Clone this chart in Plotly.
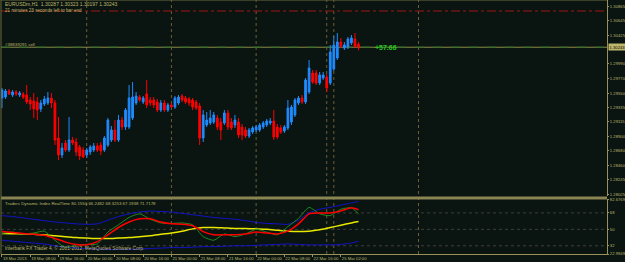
import plotly.graph_objects as go

# ---------------- data ----------------
bar_index = list(range(102))
open_ = [1.29476,1.29491,1.29582,1.29522,1.29567,1.29522,1.29537,1.29522,1.29446,1.29431,
         1.29416,1.29310,1.29386,1.29401,1.29476,1.29401,1.28872,1.28616,1.28797,1.28691,
         1.28842,1.28812,1.28736,1.28691,1.28616,1.28661,1.28691,1.28751,1.28766,1.28691,
         1.28766,1.28842,1.28993,1.28842,1.29144,1.29039,1.29039,1.29174,1.29401,1.29491,
         1.29416,1.29537,1.29446,1.29446,1.29416,1.29295,1.29401,1.29295,1.29371,1.29340,
         1.29401,1.29506,1.29476,1.29461,1.29446,1.29416,1.29355,1.28872,1.29069,1.29099,
         1.29114,1.29174,1.29114,1.29099,1.29250,1.29114,1.29069,1.29114,1.29039,1.28993,
         1.28902,1.28963,1.28993,1.28993,1.29039,1.29069,1.29099,1.29129,1.29039,1.29024,
         1.28978,1.29024,1.29114,1.29220,1.29401,1.29476,1.29416,1.29567,1.29854,1.29854,
         1.29703,1.29778,1.29793,1.29703,1.29914,1.30080,1.30322,1.30231,1.30246,1.30307,
         1.30367,1.30287]
high = [1.29627,1.29612,1.29612,1.29597,1.29597,1.29582,1.29567,1.29672,1.29491,1.29552,
        1.29491,1.29446,1.29506,1.29567,1.29552,1.29446,1.29189,1.28797,1.28842,1.29189,
        1.28887,1.28872,1.28766,1.28736,1.28721,1.28766,1.28797,1.28797,1.28812,1.28902,
        1.29174,1.29053,1.29144,1.29220,1.29189,1.29325,1.29672,1.29718,1.29567,1.29522,
        1.29506,1.29748,1.29491,1.29491,1.29461,1.29446,1.29446,1.29401,1.29401,1.29506,
        1.29522,1.29537,1.29506,1.29491,1.29476,1.29446,1.29401,1.29295,1.29265,1.29295,
        1.29265,1.29220,1.29174,1.29295,1.29295,1.29174,1.29220,1.29174,1.29084,1.29039,
        1.29024,1.29053,1.29069,1.29099,1.29129,1.29159,1.29174,1.29295,1.29084,1.29069,
        1.29069,1.29446,1.29371,1.29476,1.29506,1.29522,1.29778,1.30050,1.29899,1.29899,
        1.29869,1.29869,1.29839,1.30277,1.30412,1.30458,1.30382,1.30322,1.30397,1.30427,
        1.30458,1.30323]
low = [1.29325,1.29461,1.29522,1.29491,1.29506,1.29491,1.29461,1.29386,1.29295,1.29174,
       1.29144,1.29265,1.29355,1.29371,1.29325,1.28766,1.28540,1.28570,1.28661,1.28661,
       1.28766,1.28600,1.28540,1.28570,1.28570,1.28616,1.28661,1.28661,1.28616,1.28661,
       1.28736,1.28812,1.28812,1.28812,1.28993,1.28993,1.29008,1.29144,1.29371,1.29416,
       1.29386,1.29325,1.29355,1.29325,1.29265,1.29265,1.29265,1.29265,1.29325,1.29310,
       1.29371,1.29416,1.29386,1.29355,1.29295,1.29295,1.28766,1.28812,1.29039,1.29069,
       1.29084,1.28993,1.28842,1.29069,1.28993,1.28993,1.29024,1.28872,1.28842,1.28872,
       1.28872,1.28933,1.28963,1.28963,1.29008,1.29039,1.29069,1.28842,1.28857,1.28933,
       1.28948,1.28993,1.29069,1.29189,1.29371,1.29386,1.29386,1.29537,1.29688,1.29672,
       1.29672,1.29748,1.29567,1.29672,1.29884,1.30050,1.30231,1.30201,1.30216,1.30277,
       1.30231,1.30197]
close = [1.29597,1.29582,1.29537,1.29567,1.29537,1.29552,1.29491,1.29416,1.29386,1.29310,
         1.29295,1.29401,1.29461,1.29476,1.29401,1.28842,1.28616,1.28721,1.28691,1.28842,
         1.28797,1.28661,1.28600,1.28585,1.28691,1.28736,1.28751,1.28691,1.28676,1.28872,
         1.29144,1.28993,1.28842,1.29144,1.29039,1.29295,1.29476,1.29491,1.29506,1.29446,
         1.29476,1.29371,1.29401,1.29371,1.29295,1.29401,1.29295,1.29371,1.29340,1.29476,
         1.29491,1.29446,1.29416,1.29401,1.29340,1.29325,1.28872,1.29220,1.29144,1.29174,
         1.29220,1.29039,1.28993,1.29250,1.29039,1.29024,1.29144,1.28918,1.28918,1.28902,
         1.28993,1.29024,1.29039,1.29069,1.29099,1.29129,1.29129,1.28887,1.28887,1.28963,
         1.29039,1.29325,1.29340,1.29446,1.29476,1.29416,1.29748,1.29929,1.29718,1.29703,
         1.29824,1.29824,1.29627,1.30171,1.30277,1.30322,1.30261,1.30277,1.30367,1.30382,
         1.30261,1.30243]

time_tick_index = [0, 8, 16, 24, 32, 40, 48, 56, 64, 72, 80, 88, 96]
time_tick_labels = ["19 Mar 2013", "19 Mar 08:00", "19 Mar 16:00", "20 Mar 00:00",
                    "20 Mar 08:00", "20 Mar 16:00", "21 Mar 00:00", "21 Mar 08:00",
                    "21 Mar 16:00", "22 Mar 00:00", "22 Mar 08:00", "22 Mar 16:00",
                    "25 Mar 02:00"]

price_ticks = [1.30865, 1.30645, 1.30425, 1.29990, 1.29770, 1.29550, 1.29335,
               1.29115, 1.28900, 1.28680, 1.28460, 1.28245, 1.28025]
price_tick_labels = ["1.30865", "1.30645", "1.30425", "1.29990", "1.29770", "1.29550",
                     "1.29335", "1.29115", "1.28900", "1.28680", "1.28460", "1.28245",
                     "1.28025"]

tdi_index = [0, 3, 6, 9, 12, 15, 18, 21, 24, 27, 30, 33, 36, 39, 42, 45, 48, 51, 54,
             57, 60, 63, 66, 69, 72, 75, 78, 81, 84, 87, 90, 93, 96, 99, 101]
tdi_upper = [65, 64, 62.5, 61, 59.5, 58, 57, 56, 55.5, 56, 60, 64, 67, 69, 70, 69.5, 69,
             67.5, 66, 64.5, 63, 62, 61, 59.5, 57.5, 56.5, 56, 55.5, 60, 68, 72, 74,
             76.5, 79, 80.5]
tdi_lower = [38, 37, 36, 35, 34, 32, 30.5, 29.5, 29, 28.5, 28, 28, 28, 28.5, 29, 29.5,
             30, 30, 30.5, 31, 31, 31.5, 32, 32, 32.5, 33, 33.5, 34, 33.5, 33, 33, 33,
             33.5, 35, 37]
tdi_middle = [45.5, 45.2, 45, 44.5, 44, 43, 42, 41, 40.5, 40, 40, 40.5, 41, 42, 43, 44.5,
              46, 48, 50.5, 52, 52, 51.5, 51, 51, 50.5, 50, 49, 48, 47.5, 48, 49.5, 52,
              54.5, 57, 58.5]
tdi_rsi = [45.5, 47, 45, 46, 48, 38, 30, 33, 33.5, 34, 47, 55, 63, 67, 61, 57, 56.5, 57,
           55, 42, 38, 45, 42, 45, 50, 47, 44, 53, 62, 74, 67, 65, 72, 73.5, 67]
tdi_signal = [47.5, 46.5, 45.5, 44.5, 43.5, 40, 36, 33.5, 33, 36.5, 44, 52, 58, 61.5,
              61.5, 58, 56, 55.7, 54, 47.5, 44, 44, 44, 45, 47, 46, 45, 48, 56, 67, 68,
              68, 70, 73.5, 71.5]
tdi_levels = [68, 50, 32]
tdi_ticks = [82.6769, 68, 50, 32, 22.9949]
tdi_tick_labels = ["82.6769", "68", "50", "32", "22.9949"]

separator_index = [24, 48, 72, 92, 94, 118]
current_price = 1.30243
order_price = 1.30243
stop_price = 1.30790
order_label = "#38839291 sell"
profit_label = "+57.66"

header1 = "EURUSDm,H1  1.30287 1.30323 1.30197 1.30243"
header2 = "21 minutes 23 seconds left to bar end"
tdi_title = "Traders Dynamic Index RealTime 80.1550 66.2482 68.3253 67.1938 71.7178"
footer = "Interbank FX Trader 4, \u00a9 2001-2012, MetaQuotes Software Corp."

# ---------------- style ----------------
BG = "#0a1411"
TAN = "#bdb76b"
AXIS = "#9a9258"
BLUE = "#1e8cff"
RED = "#ff0000"
FONT = "Liberation Sans, Arial, sans-serif"
TICK_FONT = "Liberation Sans Narrow, Liberation Sans, Arial, sans-serif"

fig = go.Figure()
fig.add_trace(go.Candlestick(
    x=bar_index, open=open_, high=high, low=low, close=close,
    increasing=dict(line=dict(color=BLUE, width=1), fillcolor=BLUE),
    decreasing=dict(line=dict(color=RED, width=1), fillcolor=RED),
    whiskerwidth=0, xaxis="x", yaxis="y", showlegend=False, hoverinfo="skip"))

for vals, col, w in [(tdi_upper, "#1414c8", 1), (tdi_lower, "#1414c8", 1),
                     (tdi_middle, "#e8e800", 1.5), (tdi_rsi, "#1f8a1f", 1),
                     (tdi_signal, "#ff0000", 1.5)]:
    fig.add_trace(go.Scatter(x=tdi_index, y=vals, mode="lines", xaxis="x", yaxis="y2",
                             line=dict(color=col, width=w, shape="spline", smoothing=0.6),
                             showlegend=False, hoverinfo="skip"))

shapes = []
for s in separator_index:
    shapes.append(dict(type="line", xref="x", yref="paper", x0=s, x1=s, y0=0, y1=1,
                       line=dict(color="#6e5f36", width=1, dash="dot"), layer="below"))
for lv in tdi_levels:
    shapes.append(dict(type="line", xref="paper", yref="y2", x0=0, x1=1, y0=lv, y1=lv,
                       line=dict(color="#3e3e3a", width=1, dash="dot"), layer="below"))
shapes.append(dict(type="line", xref="paper", yref="y", x0=0, x1=1, y0=stop_price,
                   y1=stop_price, line=dict(color="#a01616", width=1, dash="dashdot"),
                   layer="below"))
shapes.append(dict(type="line", xref="paper", yref="y", x0=0, x1=1, y0=current_price,
                   y1=current_price, line=dict(color="#8f8a48", width=1), layer="below"))
shapes.append(dict(type="line", xref="paper", yref="y", x0=0, x1=1, y0=order_price,
                   y1=order_price, line=dict(color="#2f6f2a", width=1, dash="dash"),
                   layer="below"))
# panel separator band and borders
shapes.append(dict(type="rect", xref="paper", yref="paper", x0=0, x1=1, y0=0.2146,
                   y1=0.2264, fillcolor="#8a8452", line=dict(width=0)))
shapes.append(dict(type="line", xref="paper", yref="paper", x0=0, x1=0, y0=0, y1=1,
                   line=dict(color="#6f6a40", width=1)))
shapes.append(dict(type="line", xref="paper", yref="paper", x0=0, x1=1, y0=1, y1=1,
                   line=dict(color="#6f6a40", width=1)))

def ann(text, x, y, size, color=TAN, **kw):
    d = dict(text=text, x=x, y=y, xref="paper", yref="paper", showarrow=False,
             xanchor="left", yanchor="middle", font=dict(family=FONT, size=size, color=color))
    d.update(kw)
    return d

annotations = [
    ann(header1, 0.003, 0.984, 5),
    ann(header2, 0.003, 0.957, 4.6),
    ann(order_label, 0.003, 0.826, 4.4),
    ann(tdi_title, 0.003, 0.200, 4.4),
    ann(footer, 0.003, 0.024, 4.8),
    dict(text="<b>" + profit_label + "</b>", x=0.6145, y=current_price, xref="paper",
         yref="y", showarrow=False, xanchor="left", yanchor="middle",
         font=dict(family=FONT, size=7, color="#22c81e")),
    dict(text=f"{current_price:.5f}", x=1, y=current_price, xref="paper", yref="y",
         showarrow=False, xanchor="left", yanchor="middle", xshift=1, bgcolor=TAN,
         borderpad=0.5, font=dict(family=TICK_FONT, size=4.2, color="#000000")),
]

fig.update_layout(
    width=625, height=262, margin=dict(l=1, r=18, t=0, b=8, autoexpand=False),
    paper_bgcolor=BG, plot_bgcolor=BG, showlegend=False,
    font=dict(family=FONT, color=TAN, size=4.5),
    shapes=shapes, annotations=annotations,
    xaxis=dict(range=[-0.28, 171.4], domain=[0, 1], anchor="y2", automargin=False,
               showline=True, linecolor=AXIS, linewidth=1, showgrid=False, zeroline=False,
               tickmode="array", tickvals=time_tick_index, ticktext=time_tick_labels,
               ticks="outside", ticklen=2, tickcolor=AXIS, tickangle=0,
               ticklabelposition="outside right",
               tickfont=dict(family=FONT, size=4.2, color=TAN),
               rangeslider=dict(visible=False)),
    yaxis=dict(domain=[0.2264, 1], range=[1.27989, 1.30956], side="right", anchor="x",
               automargin=False,
               showline=True, linecolor=AXIS, linewidth=1, showgrid=False, zeroline=False,
               tickmode="array", tickvals=price_ticks, ticktext=price_tick_labels,
               ticks="outside", ticklen=1, tickcolor=AXIS,
               tickfont=dict(family=TICK_FONT, size=4.2, color=TAN)),
    yaxis2=dict(domain=[0, 0.2146], range=[22.9949, 82.6769], side="right", anchor="x",
                automargin=False,
                showline=True, linecolor=AXIS, linewidth=1, showgrid=False, zeroline=False,
                tickmode="array", tickvals=tdi_ticks, ticktext=tdi_tick_labels,
                ticks="outside", ticklen=1, tickcolor=AXIS,
                tickfont=dict(family=TICK_FONT, size=4.2, color=TAN)),
)

fig.write_html("out.html", config={"displayModeBar": False})
